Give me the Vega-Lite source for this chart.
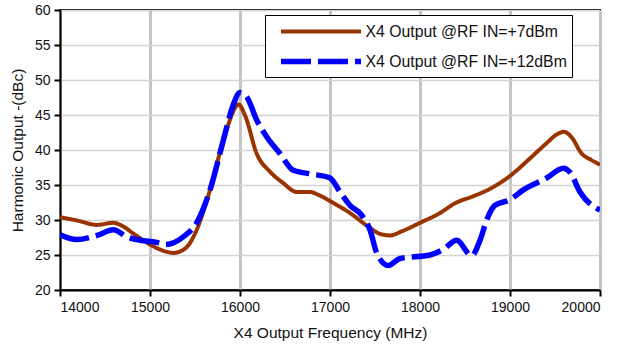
{
  "$schema": "https://vega.github.io/schema/vega-lite/v6.json",
  "width": 540,
  "height": 280,
  "autosize": {"type": "none"},
  "padding": {"left": 60, "top": 10, "right": 26, "bottom": 59},
  "background": "white",
  "config": {
    "font": "Liberation Sans",
    "view": {"stroke": "black", "strokeWidth": 2},
    "axis": {
      "labelFont": "Liberation Sans",
      "titleFont": "Liberation Sans",
      "labelFontSize": 14,
      "titleFontSize": 15.5,
      "titleFontWeight": "normal",
      "labelColor": "#111",
      "titleColor": "#111",
      "domainColor": "black",
      "domainWidth": 2,
      "tickColor": "black",
      "tickWidth": 2,
      "tickSize": 6
    },
    "axisX": {"gridColor": "#c4c4c4", "gridWidth": 3},
    "axisY": {"gridColor": "#d4d4d4", "gridWidth": 1.5},
    "legend": {
      "orient": "none", "legendX": 205, "legendY": 5,
      "fillColor": "white", "strokeColor": "black", "strokeWidth": 1,
      "padding": 4.5, "symbolType": "M-4,0H4", "symbolSize": 400, "symbolStrokeWidth": 5, "symbolOffset": 38.5,
      "labelFont": "Liberation Sans", "labelFontSize": 15.8, "labelColor": "#111", "labelOffset": 31.5, "rowPadding": 9,
      "labelLimit": 300
    }
  },
  "data": {
    "values": [
      {"series": "X4 Output @RF IN=+7dBm", "freq": 14000, "dbc": 30.4},
      {"series": "X4 Output @RF IN=+7dBm", "freq": 14200, "dbc": 29.9},
      {"series": "X4 Output @RF IN=+7dBm", "freq": 14411, "dbc": 29.3},
      {"series": "X4 Output @RF IN=+7dBm", "freq": 14590, "dbc": 29.6},
      {"series": "X4 Output @RF IN=+7dBm", "freq": 14700, "dbc": 29.1},
      {"series": "X4 Output @RF IN=+7dBm", "freq": 14811, "dbc": 28.1},
      {"series": "X4 Output @RF IN=+7dBm", "freq": 15000, "dbc": 26.5},
      {"series": "X4 Output @RF IN=+7dBm", "freq": 15150, "dbc": 25.6},
      {"series": "X4 Output @RF IN=+7dBm", "freq": 15259, "dbc": 25.3},
      {"series": "X4 Output @RF IN=+7dBm", "freq": 15350, "dbc": 25.6},
      {"series": "X4 Output @RF IN=+7dBm", "freq": 15420, "dbc": 26.3},
      {"series": "X4 Output @RF IN=+7dBm", "freq": 15519, "dbc": 28.6},
      {"series": "X4 Output @RF IN=+7dBm", "freq": 15667, "dbc": 34.3},
      {"series": "X4 Output @RF IN=+7dBm", "freq": 15852, "dbc": 43.0},
      {"series": "X4 Output @RF IN=+7dBm", "freq": 15985, "dbc": 46.5},
      {"series": "X4 Output @RF IN=+7dBm", "freq": 16060, "dbc": 44.8},
      {"series": "X4 Output @RF IN=+7dBm", "freq": 16185, "dbc": 39.5},
      {"series": "X4 Output @RF IN=+7dBm", "freq": 16333, "dbc": 36.9},
      {"series": "X4 Output @RF IN=+7dBm", "freq": 16478, "dbc": 35.3},
      {"series": "X4 Output @RF IN=+7dBm", "freq": 16630, "dbc": 34.0},
      {"series": "X4 Output @RF IN=+7dBm", "freq": 16778, "dbc": 34.0},
      {"series": "X4 Output @RF IN=+7dBm", "freq": 16870, "dbc": 33.6},
      {"series": "X4 Output @RF IN=+7dBm", "freq": 17000, "dbc": 32.7},
      {"series": "X4 Output @RF IN=+7dBm", "freq": 17222, "dbc": 31.0},
      {"series": "X4 Output @RF IN=+7dBm", "freq": 17420, "dbc": 29.1},
      {"series": "X4 Output @RF IN=+7dBm", "freq": 17560, "dbc": 28.0},
      {"series": "X4 Output @RF IN=+7dBm", "freq": 17667, "dbc": 27.8},
      {"series": "X4 Output @RF IN=+7dBm", "freq": 17800, "dbc": 28.4},
      {"series": "X4 Output @RF IN=+7dBm", "freq": 18000, "dbc": 29.6},
      {"series": "X4 Output @RF IN=+7dBm", "freq": 18222, "dbc": 31.0},
      {"series": "X4 Output @RF IN=+7dBm", "freq": 18390, "dbc": 32.4},
      {"series": "X4 Output @RF IN=+7dBm", "freq": 18593, "dbc": 33.4},
      {"series": "X4 Output @RF IN=+7dBm", "freq": 18800, "dbc": 34.6},
      {"series": "X4 Output @RF IN=+7dBm", "freq": 19000, "dbc": 36.3},
      {"series": "X4 Output @RF IN=+7dBm", "freq": 19222, "dbc": 38.8},
      {"series": "X4 Output @RF IN=+7dBm", "freq": 19400, "dbc": 40.9},
      {"series": "X4 Output @RF IN=+7dBm", "freq": 19530, "dbc": 42.3},
      {"series": "X4 Output @RF IN=+7dBm", "freq": 19600, "dbc": 42.6},
      {"series": "X4 Output @RF IN=+7dBm", "freq": 19685, "dbc": 41.8},
      {"series": "X4 Output @RF IN=+7dBm", "freq": 19796, "dbc": 39.5},
      {"series": "X4 Output @RF IN=+7dBm", "freq": 19900, "dbc": 38.6},
      {"series": "X4 Output @RF IN=+7dBm", "freq": 20000, "dbc": 37.9},
      {"series": "X4 Output @RF IN=+12dBm", "freq": 14000, "dbc": 27.9},
      {"series": "X4 Output @RF IN=+12dBm", "freq": 14185, "dbc": 27.2},
      {"series": "X4 Output @RF IN=+12dBm", "freq": 14411, "dbc": 27.8},
      {"series": "X4 Output @RF IN=+12dBm", "freq": 14593, "dbc": 28.6},
      {"series": "X4 Output @RF IN=+12dBm", "freq": 14741, "dbc": 27.6},
      {"series": "X4 Output @RF IN=+12dBm", "freq": 14889, "dbc": 27.1},
      {"series": "X4 Output @RF IN=+12dBm", "freq": 15074, "dbc": 26.8},
      {"series": "X4 Output @RF IN=+12dBm", "freq": 15170, "dbc": 26.5},
      {"series": "X4 Output @RF IN=+12dBm", "freq": 15370, "dbc": 27.6},
      {"series": "X4 Output @RF IN=+12dBm", "freq": 15519, "dbc": 29.6},
      {"series": "X4 Output @RF IN=+12dBm", "freq": 15667, "dbc": 34.3},
      {"series": "X4 Output @RF IN=+12dBm", "freq": 15815, "dbc": 41.4},
      {"series": "X4 Output @RF IN=+12dBm", "freq": 15926, "dbc": 46.5},
      {"series": "X4 Output @RF IN=+12dBm", "freq": 16000, "dbc": 48.2},
      {"series": "X4 Output @RF IN=+12dBm", "freq": 16074, "dbc": 47.6},
      {"series": "X4 Output @RF IN=+12dBm", "freq": 16185, "dbc": 44.3},
      {"series": "X4 Output @RF IN=+12dBm", "freq": 16296, "dbc": 41.9},
      {"series": "X4 Output @RF IN=+12dBm", "freq": 16444, "dbc": 39.5},
      {"series": "X4 Output @RF IN=+12dBm", "freq": 16593, "dbc": 37.1},
      {"series": "X4 Output @RF IN=+12dBm", "freq": 16778, "dbc": 36.6},
      {"series": "X4 Output @RF IN=+12dBm", "freq": 17000, "dbc": 36.0},
      {"series": "X4 Output @RF IN=+12dBm", "freq": 17111, "dbc": 34.0},
      {"series": "X4 Output @RF IN=+12dBm", "freq": 17222, "dbc": 32.1},
      {"series": "X4 Output @RF IN=+12dBm", "freq": 17352, "dbc": 30.7},
      {"series": "X4 Output @RF IN=+12dBm", "freq": 17444, "dbc": 28.6},
      {"series": "X4 Output @RF IN=+12dBm", "freq": 17519, "dbc": 25.3},
      {"series": "X4 Output @RF IN=+12dBm", "freq": 17648, "dbc": 23.5},
      {"series": "X4 Output @RF IN=+12dBm", "freq": 17778, "dbc": 24.5},
      {"series": "X4 Output @RF IN=+12dBm", "freq": 18111, "dbc": 25.0},
      {"series": "X4 Output @RF IN=+12dBm", "freq": 18259, "dbc": 25.8},
      {"series": "X4 Output @RF IN=+12dBm", "freq": 18407, "dbc": 27.1},
      {"series": "X4 Output @RF IN=+12dBm", "freq": 18574, "dbc": 24.9},
      {"series": "X4 Output @RF IN=+12dBm", "freq": 18667, "dbc": 27.1},
      {"series": "X4 Output @RF IN=+12dBm", "freq": 18741, "dbc": 30.0},
      {"series": "X4 Output @RF IN=+12dBm", "freq": 18833, "dbc": 32.1},
      {"series": "X4 Output @RF IN=+12dBm", "freq": 19000, "dbc": 32.9},
      {"series": "X4 Output @RF IN=+12dBm", "freq": 19148, "dbc": 34.3},
      {"series": "X4 Output @RF IN=+12dBm", "freq": 19407, "dbc": 36.0},
      {"series": "X4 Output @RF IN=+12dBm", "freq": 19593, "dbc": 37.4},
      {"series": "X4 Output @RF IN=+12dBm", "freq": 19667, "dbc": 36.8},
      {"series": "X4 Output @RF IN=+12dBm", "freq": 19778, "dbc": 34.0},
      {"series": "X4 Output @RF IN=+12dBm", "freq": 20000, "dbc": 31.4}
    ]
  },
  "mark": {"type": "line", "interpolate": "monotone", "strokeCap": "butt", "clip": true},
  "encoding": {
    "x": {
      "field": "freq", "type": "quantitative",
      "scale": {"domain": [14000, 20000], "nice": false},
      "axis": {"values": [14000, 15000, 16000, 17000, 18000, 19000, 20000], "format": "d", "title": "X4 Output Frequency (MHz)", "labelPadding": 4, "titlePadding": 11}
    },
    "y": {
      "field": "dbc", "type": "quantitative",
      "scale": {"domain": [20, 60], "nice": false},
      "axis": {"values": [20, 25, 30, 35, 40, 45, 50, 55, 60], "title": "Harmonic Output -(dBc)", "labelPadding": 4, "titlePadding": 9}
    },
    "color": {
      "field": "series", "type": "nominal", "title": null,
      "scale": {"domain": ["X4 Output @RF IN=+7dBm", "X4 Output @RF IN=+12dBm"], "range": ["#993300", "#0000ff"]},
      "legend": {
        "encode": {
          "legend": {"update": {"width": {"value": 320}}}
        }
      }
    },
    "strokeDash": {
      "field": "series", "type": "nominal", "title": null,
      "scale": {"domain": ["X4 Output @RF IN=+7dBm", "X4 Output @RF IN=+12dBm"], "range": [[1, 0], [30, 7]]}
    },
    "strokeWidth": {
      "field": "series", "type": "nominal", "legend": null,
      "scale": {"domain": ["X4 Output @RF IN=+7dBm", "X4 Output @RF IN=+12dBm"], "range": [4, 5.5]}
    }
  }
}
